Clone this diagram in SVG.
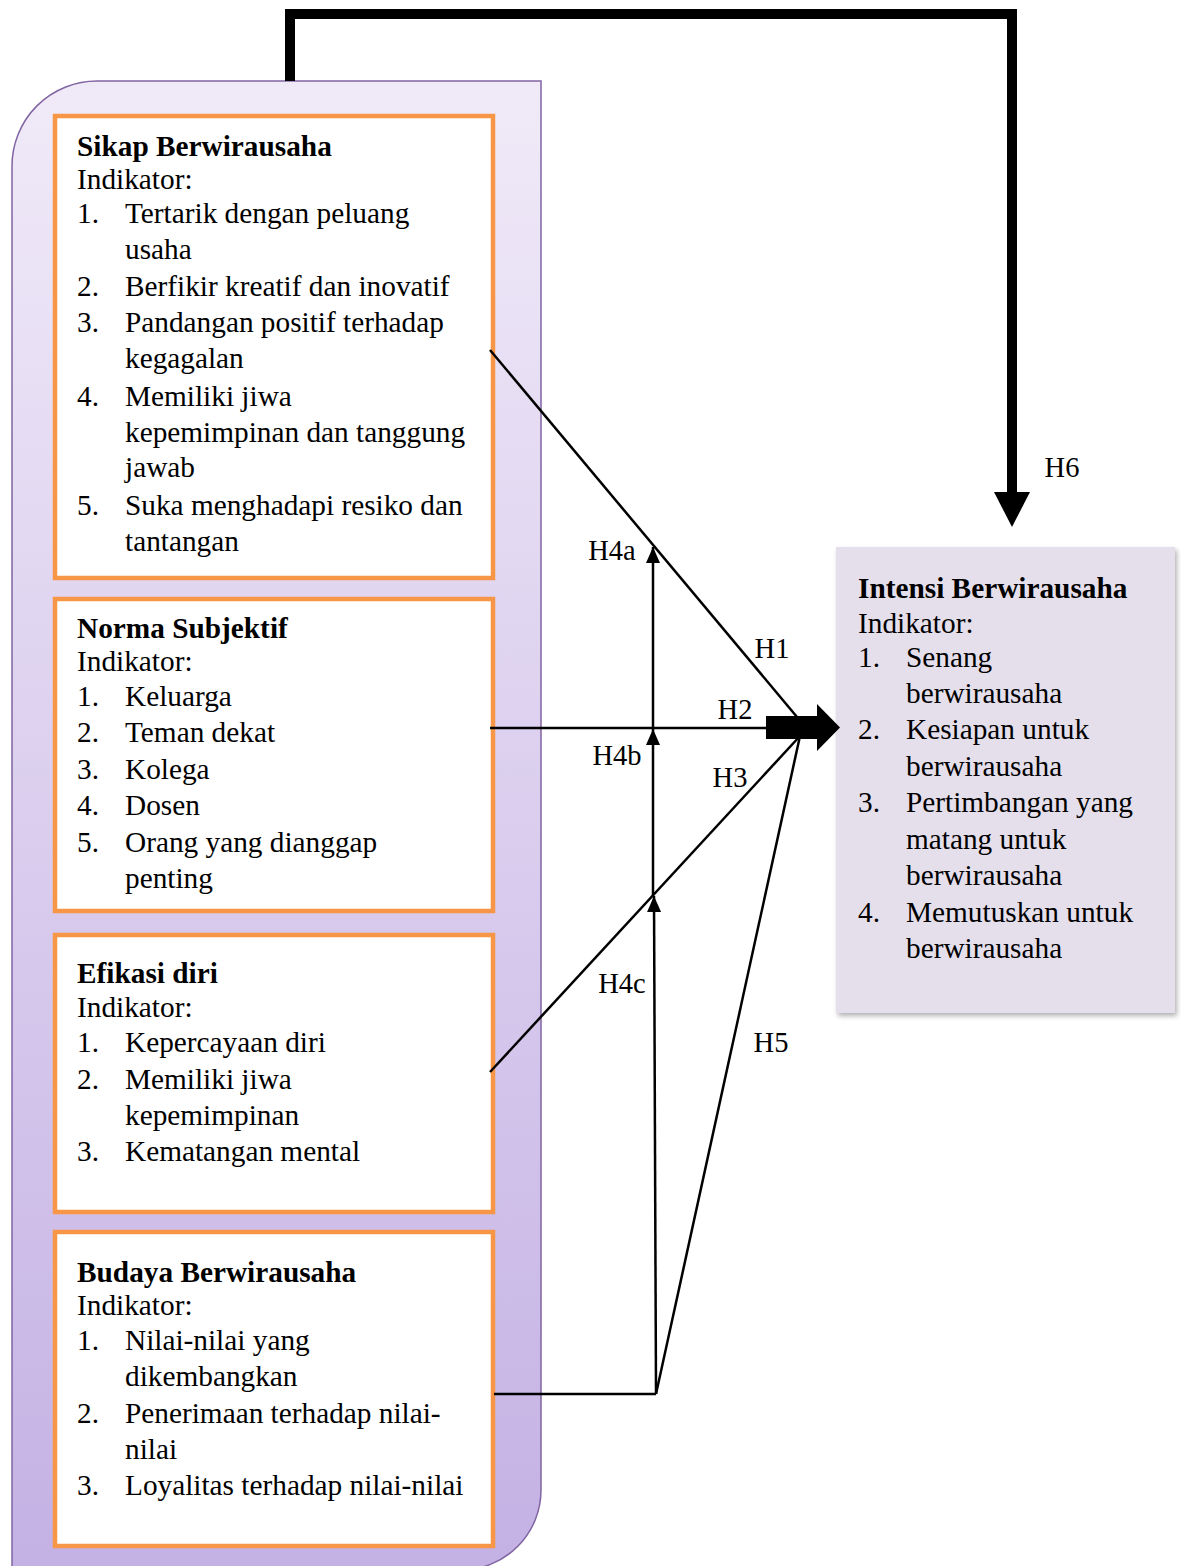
<svg xmlns="http://www.w3.org/2000/svg" width="1181" height="1566" viewBox="0 0 1181 1566">
<defs>
<linearGradient id="pg" x1="0" y1="0" x2="0" y2="1">
<stop offset="0" stop-color="#F0EAF8"/>
<stop offset="1" stop-color="#C4B1E4"/>
</linearGradient>
<filter id="sh" x="-5%" y="-5%" width="115%" height="115%">
<feDropShadow dx="2" dy="3" stdDeviation="2.5" flood-color="#000" flood-opacity="0.3"/>
</filter>
<marker id="ah" markerUnits="userSpaceOnUse" markerWidth="17" markerHeight="15" refX="16" refY="7" orient="auto">
<path d="M0,0 L16,7 L0,14 Z" fill="#000"/>
</marker>
<style>
text{font-family:"Liberation Serif","Times New Roman",serif;font-size:29.3px;fill:#000}
.b{font-weight:bold}
.box{fill:#fff;stroke:#F79646;stroke-width:4.5}
.ln{stroke:#000;stroke-width:2.5;fill:none}
.lab{text-anchor:middle;font-size:28.5px}
</style>
</defs>
<g id="group-bg">
<path d="M12,1570 V166 A85,85 0 0 1 97,81 H541 V1490 A80,80 0 0 1 461,1570 Z" fill="url(#pg)" stroke="#8064A2" stroke-width="1.5"/>
</g>
<g id="node-sikap">
<rect class="box" x="55" y="116" width="438" height="462"/>
<text class="b" x="77" y="156">Sikap Berwirausaha</text>
<text x="77" y="189">Indikator:</text>
<text x="77" y="223">1.</text><text x="125" y="223">Tertarik dengan peluang</text>
<text x="125" y="259">usaha</text>
<text x="77" y="296">2.</text><text x="125" y="296">Berfikir kreatif dan inovatif</text>
<text x="77" y="332">3.</text><text x="125" y="332">Pandangan positif terhadap</text>
<text x="125" y="368">kegagalan</text>
<text x="77" y="406">4.</text><text x="125" y="406">Memiliki jiwa</text>
<text x="125" y="442">kepemimpinan dan tanggung</text>
<text x="125" y="477">jawab</text>
<text x="77" y="515">5.</text><text x="125" y="515">Suka menghadapi resiko dan</text>
<text x="125" y="551">tantangan</text>
</g>
<g id="node-norma">
<rect class="box" x="55" y="599" width="438" height="312"/>
<text class="b" x="77" y="638">Norma Subjektif</text>
<text x="77" y="671">Indikator:</text>
<text x="77" y="706">1.</text><text x="125" y="706">Keluarga</text>
<text x="77" y="742">2.</text><text x="125" y="742">Teman dekat</text>
<text x="77" y="779">3.</text><text x="125" y="779">Kolega</text>
<text x="77" y="815">4.</text><text x="125" y="815">Dosen</text>
<text x="77" y="852">5.</text><text x="125" y="852">Orang yang dianggap</text>
<text x="125" y="888">penting</text>
</g>
<g id="node-efikasi">
<rect class="box" x="55" y="935" width="438" height="277"/>
<text class="b" x="77" y="983">Efikasi diri</text>
<text x="77" y="1017">Indikator:</text>
<text x="77" y="1052">1.</text><text x="125" y="1052">Kepercayaan diri</text>
<text x="77" y="1089">2.</text><text x="125" y="1089">Memiliki jiwa</text>
<text x="125" y="1125">kepemimpinan</text>
<text x="77" y="1161">3.</text><text x="125" y="1161">Kematangan mental</text>
</g>
<g id="node-budaya">
<rect class="box" x="55" y="1232" width="438" height="314"/>
<text class="b" x="77" y="1282">Budaya Berwirausaha</text>
<text x="77" y="1315">Indikator:</text>
<text x="77" y="1350">1.</text><text x="125" y="1350">Nilai-nilai yang</text>
<text x="125" y="1386">dikembangkan</text>
<text x="77" y="1423">2.</text><text x="125" y="1423">Penerimaan terhadap nilai-</text>
<text x="125" y="1459">nilai</text>
<text x="77" y="1495">3.</text><text x="125" y="1495">Loyalitas terhadap nilai-nilai</text>
</g>
<g id="node-intensi">
<rect x="836" y="547" width="339" height="466" fill="#E5DFEC" filter="url(#sh)"/>
<text class="b" x="858" y="598">Intensi Berwirausaha</text>
<text x="858" y="633">Indikator:</text>
<text x="858" y="667">1.</text><text x="906" y="667">Senang</text>
<text x="906" y="703">berwirausaha</text>
<text x="858" y="739">2.</text><text x="906" y="739">Kesiapan untuk</text>
<text x="906" y="776">berwirausaha</text>
<text x="858" y="812">3.</text><text x="906" y="812">Pertimbangan yang</text>
<text x="906" y="849">matang untuk</text>
<text x="906" y="885">berwirausaha</text>
<text x="858" y="922">4.</text><text x="906" y="922">Memutuskan untuk</text>
<text x="906" y="958">berwirausaha</text>
</g>
<g id="connectors">
<path d="M290,81 V14 H1012 V495" fill="none" stroke="#000" stroke-width="10"/>
<polygon points="994,492 1030,492 1012,527" fill="#000"/>
<line class="ln" x1="490" y1="350" x2="797" y2="717"/>
<line class="ln" x1="490" y1="728" x2="770" y2="728"/>
<polygon points="766,716 817,716 817,704 840,727.5 817,751 817,739 766,739" fill="#000"/>
<line class="ln" x1="490" y1="1072" x2="800" y2="736"/>
<line class="ln" x1="494" y1="1394" x2="656" y2="1394"/>
<line class="ln" x1="656" y1="1394" x2="800" y2="736"/>
<line class="ln" x1="656" y1="1394" x2="654" y2="896" marker-end="url(#ah)"/>
<line class="ln" x1="653" y1="896" x2="653" y2="729" marker-end="url(#ah)"/>
<line class="ln" x1="653" y1="729" x2="653" y2="547" marker-end="url(#ah)"/>
<text class="lab" x="612" y="560">H4a</text>
<text class="lab" x="772" y="658">H1</text>
<text class="lab" x="735" y="719">H2</text>
<text class="lab" x="617" y="765">H4b</text>
<text class="lab" x="730" y="787">H3</text>
<text class="lab" x="622" y="993">H4c</text>
<text class="lab" x="771" y="1052">H5</text>
<text class="lab" x="1062" y="477">H6</text>
</g>
</svg>
